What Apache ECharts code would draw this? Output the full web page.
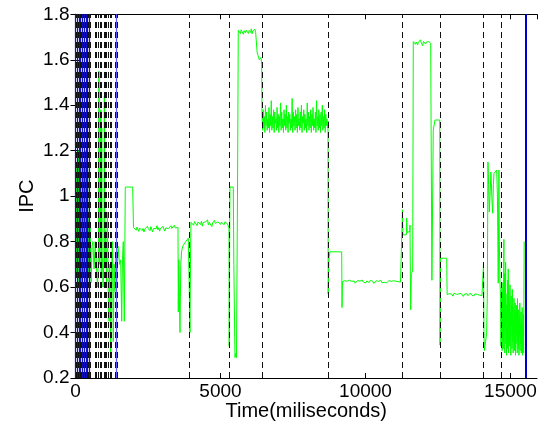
<!DOCTYPE html>
<html><head><meta charset="utf-8">
<script src="https://cdn.jsdelivr.net/npm/echarts@6/dist/echarts.min.js"></script>
<style>html,body{margin:0;padding:0;background:#fff}#c{width:540px;height:429px}</style>
</head><body><div id="c"></div>
<script>
// ---- data (time in ms, IPC) ----
const xTicks = [0, 5000, 10000, 15000];
const yTicks = [0.2, 0.4, 0.6, 0.8, 1.0, 1.2, 1.4, 1.6, 1.8];

const startPhase = [[0,0.8],[20,1.15],[40,0.65],[60,1.1],[80,0.7],[100,1.2],[120,0.62],[140,1.05],[160,0.75],[180,1.18],[200,0.6],[220,1.0],[240,0.7],[260,1.15],[280,0.65],[300,1.1],[320,0.8],[340,1.2],[360,0.62],[380,1.05],[400,0.7],[420,1.12],[440,0.66],[460,0.9],[480,0.62],[500,0.86],
  [510,0.86],[540,0.62],[570,0.78],[600,0.8],[640,0.68],[680,0.8],[720,0.7],[760,0.6],[790,0.75],[810,1.55],[830,0.7],[860,0.82],[875,1.38],[890,0.66],[905,1.3],[920,0.76],[950,0.6],[980,0.72],[995,1.44],[1010,0.7],[1040,0.85],[1070,0.62],[1100,0.93],[1130,0.55],[1155,0.45],[1180,0.7],[1214,0.29],[1240,0.65],[1270,0.8],[1303,0.36],[1330,0.7],[1360,0.58],[1390,0.75],[1420,0.6],[1465,0.78],[1520,0.7],[1558,0.72],[1593,0.45],[1620,0.72],[1648,0.8],[1683,0.45],[1717,1.04],[1972,1.04]];

const bandAStart = 2000, bandAEnd = 3500;
const bandAVals = [0.862,0.855,0.868,0.850,0.864,0.858,0.845,0.860,0.852,0.866,0.848,0.858,0.842,0.855,0.863,0.850,0.868,0.857,0.862,0.848,0.866,0.853,0.843,0.858,0.850,0.865,0.856,0.870,0.852,0.861,0.846,0.858,0.864,0.851,0.867,0.855,0.846,0.860,0.853,0.868,0.857,0.864,0.850,0.870,0.858,0.866,0.852,0.872,0.860,0.866,0.858];

const dropA = [[3534,0.862],[3545,0.49],[3560,0.72],[3575,0.60],[3603,0.40],[3630,0.70],[3662,0.76],[3700,0.78],[3750,0.79],[3800,0.80],[3889,0.815],[3913,0.66],[3948,0.40],[3965,0.70]];

const bandBStart = 3982, bandBEnd = 5242;
const bandBVals = [0.885,0.878,0.892,0.872,0.888,0.880,0.895,0.870,0.886,0.879,0.893,0.875,0.889,0.868,0.884,0.892,0.876,0.887,0.881,0.896,0.873,0.885,0.879,0.890,0.866,0.884,0.877,0.893,0.880,0.888,0.872,0.887,0.882,0.894,0.876,0.886,0.879,0.891,0.874,0.887,0.882,0.889,0.878];

const dropB = [[5275,0.885],[5293,0.86],[5300,0.34],[5315,0.8],[5327,1.04],[5441,1.04],[5460,0.7],[5500,0.29],[5530,0.31],[5551,0.29],[5586,1.0]];

const bandCStart = 5613, bandCEnd = 6238;
const bandCVals = [1.730,1.722,1.738,1.715,1.732,1.725,1.740,1.712,1.728,1.735,1.718,1.730,1.724,1.737,1.716,1.729,1.733,1.720,1.736,1.714,1.727,1.731,1.722,1.734,1.719,1.726];

const dropC = [[6248,1.72],[6265,1.63],[6293,1.62],[6340,1.60],[6396,1.61],[6420,1.58]];

const bandDStart = 6431, bandDEnd = 8691;
const bandDVals = [1.36,1.29,1.38,1.30,1.35,1.28,1.40,1.31,1.37,1.29,
  1.34,1.30,1.39,1.28,1.36,1.31,1.42,1.29,1.35,1.30,
  1.38,1.28,1.37,1.32,1.34,1.29,1.39,1.30,1.36,1.28,
  1.35,1.31,1.41,1.29,1.37,1.30,1.34,1.28,1.38,1.31,
  1.36,1.29,1.40,1.30,1.35,1.28,1.37,1.32,1.36,1.29,
  1.34,1.30,1.43,1.28,1.37,1.31,1.35,1.29,1.38,1.30,
  1.36,1.28,1.39,1.31,1.34,1.29,1.37,1.30,1.40,1.28,
  1.35,1.32,1.38,1.29,1.36,1.30,1.34,1.28,1.41,1.31,
  1.37,1.29,1.35,1.30,1.38,1.28,1.36,1.31,1.39,1.29,
  1.34,1.30,1.37,1.28,1.42,1.31,1.35,1.29,1.38,1.30,
  1.36,1.28,1.37,1.31,1.40,1.29,1.35,1.30,1.38,1.28,
  1.36,1.31,1.34,1.30];

const dropD = [[8706,1.33],[8712,0.57],[8741,0.73],[8770,0.73],[8775,0.755],[9179,0.755],[9190,0.51]];

const bandEStart = 9206, bandEEnd = 11246;
const bandEVals = [0.624,0.619,0.628,0.621,0.626,0.618,0.630,0.622,0.625,0.620,
  0.627,0.617,0.624,0.629,0.621,0.626,0.619,0.631,0.622,0.625,
  0.618,0.627,0.623,0.620,0.629,0.621,0.626,0.616,0.624,0.628,
  0.620,0.625,0.622,0.630,0.619,0.626,0.621,0.627,0.618,0.624,
  0.629,0.622,0.625,0.620,0.628,0.621,0.626,0.619,0.624,0.627,
  0.622,0.625];

const riseE = [[11268,0.625],[11275,0.94],[11290,0.83],[11410,0.83],[11420,0.904],[11440,0.84],[11476,0.844],[11525,0.845],[11534,0.873],[11550,0.87],[11558,0.50],[11580,0.66],[11593,0.668],[11627,0.67]];

const bandFStart = 11648, bandFEnd = 12273;
const bandFVals = [1.680,1.672,1.686,1.668,1.678,1.684,1.665,1.677,1.683,1.670,1.688,1.674,1.679,1.662,1.681,1.675,1.685,1.669,1.678,1.683,1.671,1.680,1.676,1.684,1.673,1.679];

const dropF = [[12282,1.675],[12290,0.63],[12330,0.63],[12337,1.29],[12380,1.29],[12396,1.335],[12560,1.335],[12569,0.345],[12590,0.727],[12800,0.727]];

const bandGStart = 12815, bandGEnd = 14055;
const bandGVals = [0.567,0.562,0.571,0.564,0.569,0.560,0.573,0.565,0.568,0.561,0.570,0.563,0.572,0.566,0.559,0.569,0.564,0.571,0.562,0.568,0.574,0.565,0.567,0.561,0.570,0.563,0.568,0.572,0.564,0.569,0.562,0.567];

const burstH = [[14061,0.567],[14070,0.70],[14085,0.40],[14099,0.32],[14140,0.36],[14178,0.40],[14200,0.55],[14223,1.15],[14245,1.05],[14268,0.93],[14300,1.02],[14326,1.106],[14355,1.0],[14385,0.925],[14410,1.05],[14430,1.10],[14480,1.10],[14523,1.115],[14550,1.0],[14578,0.617],[14590,0.9],[14602,1.115],[14615,0.8],[14637,0.62],[14660,0.55]];

const bandHStart = 14672, bandHEnd = 15472;
const bandHVals = [0.34,0.55,0.38,0.60,0.32,0.58,0.36,0.62,0.33,0.57,
  0.81,0.42,0.66,0.31,0.55,0.40,0.71,0.35,0.52,0.30,
  0.44,0.57,0.33,0.63,0.38,0.68,0.31,0.58,0.41,0.54,
  0.34,0.61,0.37,0.49,0.30,0.56,0.43,0.52,0.33,0.59,
  0.36,0.51,0.31,0.47,0.40,0.55,0.32,0.50,0.38,0.53,
  0.30,0.46,0.35,0.52,0.39,0.48,0.31,0.55,0.36,0.45,
  0.33,0.50,0.30,0.47,0.38,0.53,0.32,0.44,0.35,0.49,
  0.31,0.46,0.37,0.51,0.30,0.43,0.34,0.48,0.31,0.55,0.80];

// phase boundaries (dashed black) and blue markers
const dashedTimes = [30,90,150,210,270,330,390,445,515,672,724,790,845,879,983,1017,1069,1120,1207,1241,1362,1440,3913,5293,6431,8706,11282,12569,14075,14672];
const blueTimes = [0,60,120,180,240,300,360,420,470,1420,15523];

// ---- build ----
function band(start, end, vals) {
  const step = (end - start) / (vals.length - 1);
  return vals.map((v, i) => [start + i * step, v]);
}
const series = [].concat(
  startPhase,
  band(bandAStart, bandAEnd, bandAVals), dropA,
  band(bandBStart, bandBEnd, bandBVals), dropB,
  band(bandCStart, bandCEnd, bandCVals), dropC,
  band(bandDStart, bandDEnd, bandDVals), dropD,
  band(bandEStart, bandEEnd, bandEVals), riseE,
  band(bandFStart, bandFEnd, bandFVals), dropF,
  band(bandGStart, bandGEnd, bandGVals), burstH,
  band(bandHStart, bandHEnd, bandHVals)
);

const FONT = 'Liberation Sans, Arial, Helvetica, sans-serif';
const chart = echarts.init(document.getElementById('c'), null, {renderer: 'canvas'});
const axisCommon = {
  type: 'value',
  axisLine: {show: true, lineStyle: {color: '#000', width: 1}},
  axisTick: {show: true, inside: true, length: 5, lineStyle: {color: '#000'}},
  splitLine: {show: false}
};
const markData = blueTimes.map(t => ({xAxis: t, lineStyle: {type: 'solid', color: t > 10000 ? '#0000cc' : (t > 1000 ? '#5a5aff' : '#1010c0'), width: t > 10000 ? 2 : 1.2}}))
  .concat(dashedTimes.map(t => ({xAxis: t, lineStyle: {type: [6, 4], color: '#111', width: 1}})));

chart.setOption({
  animation: false,
  backgroundColor: '#fff',
  grid: {left: 75.5, right: 3, top: 14.3, bottom: 51, containLabel: false, outerBoundsMode: 'none'},
  xAxis: [
    Object.assign({}, axisCommon, {
      min: 0, max: 15914, interval: 5000, position: 'bottom',
      name: 'Time(miliseconds)', nameLocation: 'middle', nameGap: 23, nameMoveOverlap: false,
      nameTextStyle: {fontFamily: FONT, fontSize: 20, color: '#000'},
      axisLabel: {fontFamily: FONT, fontSize: 19, color: '#000', margin: 4, showMaxLabel: false,
        formatter: v => (xTicks.indexOf(v) >= 0 ? String(v) : '')}
    }),
    Object.assign({}, axisCommon, {min: 0, max: 15914, interval: 5000, position: 'top', axisLabel: {show: false}})
  ],
  yAxis: [
    Object.assign({}, axisCommon, {
      min: 0.2, max: 1.8, interval: 0.2, position: 'left',
      name: 'IPC', nameLocation: 'middle', nameGap: 38, nameRotate: 90, nameMoveOverlap: false,
      nameTextStyle: {fontFamily: FONT, fontSize: 20, color: '#000'},
      axisLabel: {fontFamily: FONT, fontSize: 19, color: '#000', margin: 6,
        formatter: v => { const r = Math.round(v * 10) / 10; return yTicks.some(t => Math.abs(t - r) < 1e-6) ? String(r) : ''; }}
    }),
    Object.assign({}, axisCommon, {min: 0.2, max: 1.8, interval: 0.2, position: 'right', axisLabel: {show: false}})
  ],
  series: [{
    type: 'line',
    data: series,
    showSymbol: false,
    symbol: 'none',
    sampling: null,
    lineStyle: {color: '#00ff00', width: 1},
    z: 2,
    markLine: {
      symbol: 'none', silent: true, animation: false,
      label: {show: false},
      emphasis: {disabled: true},
      data: markData
    }
  }]
});
</script>
</body></html>
